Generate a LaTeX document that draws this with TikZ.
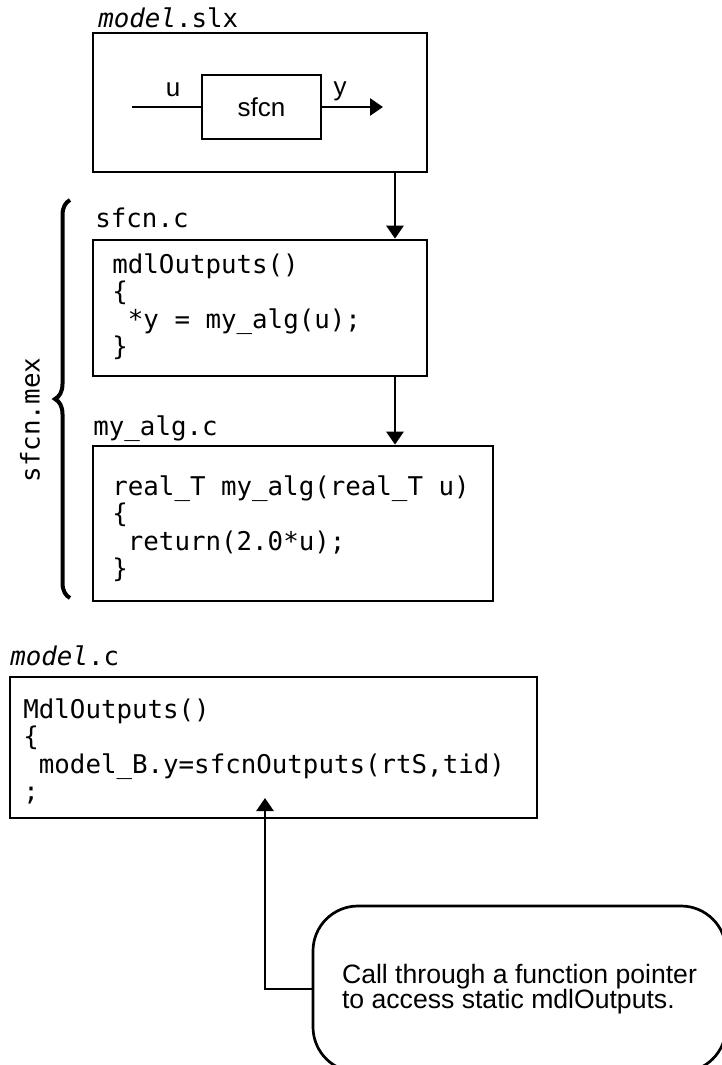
\documentclass[tikz,border=0pt]{standalone}
\usepackage{fontspec}
\setmainfont{Liberation Sans}
\setmonofont{DejaVu Sans Mono}
\usetikzlibrary{positioning,calc,arrows.meta,decorations.pathreplacing}

\tikzset{
    box/.style={draw, line width=1.35pt, inner sep=0pt},
    code/.style={anchor=north west, inner sep=0pt, align=left, font=\ttfamily\fontsize{12.9}{13.75}\selectfont},
    fname/.style={anchor=base west, inner sep=0pt, font=\ttfamily\fontsize{12.9}{13.75}\selectfont},
    sig/.style={anchor=base, inner sep=0pt, font=\fontsize{13}{15}\selectfont},
    arr/.style={-{Triangle[length=6.5pt,width=8.5pt]}, line width=1.35pt},
}

\begin{document}
\begin{tikzpicture}[x=0.5pt, y=-0.5pt]
    \useasboundingbox (0,0) rectangle (722,1065);

    % Model
    \node [fname] (slxname) at (98,28) {\textit{model}.slx};
    \node [box, minimum width=167pt, minimum height=69.5pt] (slx) at (260,102.5) {};
    \node [box, minimum width=59.5pt, minimum height=32pt, font=\fontsize{13}{15}\selectfont] (sfcn) at (261.5,107) {sfcn};
    \coordinate (uin) at (132,107);
    \coordinate (yout) at (383,107);
    \draw [line width=1.35pt] (uin) -- (sfcn.west);
    \draw [arr] (sfcn.east) -- (yout);
    \node [sig] (ulbl) at (173,97) {u};
    \node [sig] (ylbl) at (340,96) {y};

    % S-function source
    \node [fname] (sfcnname) at (95,227) {sfcn.c};
    \node [box, minimum width=167pt, minimum height=68pt] (sfcnc) at (260,308) {};
    \node [code] (sfcncode) at (112,253) {\rule{0pt}{10pt}mdlOutputs()\\\{\\\hphantom{x}*y = my\_alg(u);\\\}};

    % Algorithm source
    \node [fname] (algname) at (93,435) {my\_alg.c};
    \node [box, minimum width=200pt, minimum height=77.5pt] (myalg) at (293,523.5) {};
    \node [code] (algcode) at (112,475) {\rule{0pt}{10pt}real\_T my\_alg(real\_T u)\\\{\\\hphantom{x}return(2.0*u);\\\}};

    % Flow
    \coordinate (drop) at (395,0);
    \draw [arr] (slx.south -| drop) -- (sfcnc.north -| drop);
    \draw [arr] (sfcnc.south -| drop) -- (myalg.north -| drop);

    % MEX brace
    \draw [decorate, decoration={brace, amplitude=7.5pt}, line width=2pt] (70,598) -- (70,200);
    \node [rotate=90, inner sep=0pt, font=\ttfamily\fontsize{12.9}{13.75}\selectfont] (mexname) at (30,420) {sfcn.mex};

    % Generated code
    \node [fname] (cname) at (10,665) {\textit{model}.c};
    \node [box, minimum width=263.5pt, minimum height=70.5pt] (modelc) at (273.5,747.5) {};
    \node [code] (ccode) at (23,698) {\rule{0pt}{10pt}MdlOutputs()\\\{\\\hphantom{x}model\_B.y=sfcnOutputs(rtS,tid)\\;};

    % Callout
    \begin{scope}
        \clip (0,0) rectangle (722,1065);
        \node [draw, line width=1.35pt, rounded corners=22.5pt, minimum width=206.5pt, minimum height=83pt, align=left, font=\fontsize{13.3}{12.5}\selectfont] (note) at (519.5,989) {Call through a function pointer\\to access static mdlOutputs.};
    \end{scope}
    \coordinate (call) at (265,798);
    \draw [arr] (note.west) -| (call);
\end{tikzpicture}
\end{document}
